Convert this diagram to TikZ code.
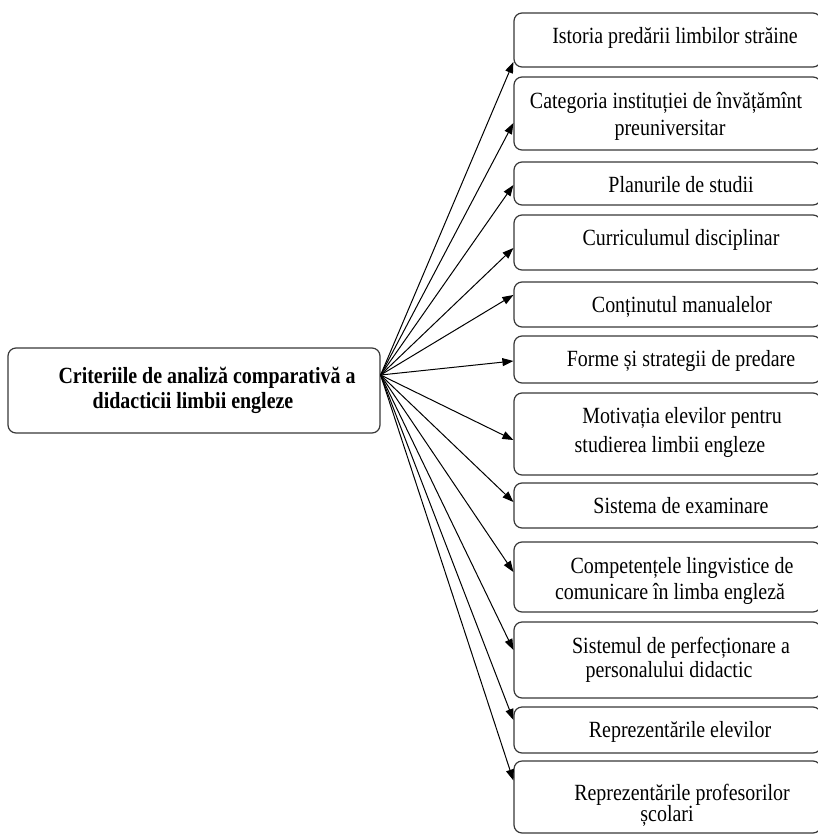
\documentclass[tikz,border=0pt]{standalone}
\usepackage{fontspec}
\setmainfont{Liberation Serif}[FakeStretch=0.86]
\usetikzlibrary{arrows.meta}
\begin{document}
\begin{tikzpicture}[x=1pt,y=-1pt,
  box/.style={draw=black!78,line width=1.2pt,rounded corners=8pt,
    rectangle,inner sep=0pt,minimum width=307pt},
  txt/.style={anchor=base,inner sep=0pt,font=\fontsize{23.2}{27}\selectfont},
  btxt/.style={txt,font=\fontsize{23.2}{27}\selectfont\bfseries},
  arr/.style={draw=black,line width=1pt,-{Triangle[length=11pt,width=8pt]}}]
\useasboundingbox (0,0) rectangle (818,835);
\clip (0,0) rectangle (818,835);

% central criterion box
\node[box,minimum width=372pt,minimum height=85pt] (c) at (194,390.5) {};
\node[btxt] (c1) at (207,383) {Criteriile de analiză comparativă a};
\node[btxt] (c2) at (193,408) {didacticii limbii engleze};
\coordinate (hub) at ([yshift=15.5pt]c.east);

% criteria boxes (centre y, height)
\node[box,minimum height=54pt] (b1)  at (667.5,40)    {};
\node[box,minimum height=73pt] (b2)  at (667.5,113.5) {};
\node[box,minimum height=43pt] (b3)  at (667.5,183.5) {};
\node[box,minimum height=55pt] (b4)  at (667.5,242.5) {};
\node[box,minimum height=45pt] (b5)  at (667.5,304.5) {};
\node[box,minimum height=47pt] (b6)  at (667.5,359.5) {};
\node[box,minimum height=82pt] (b7)  at (667.5,434)   {};
\node[box,minimum height=45pt] (b8)  at (667.5,505.5) {};
\node[box,minimum height=70pt] (b9)  at (667.5,577)   {};
\node[box,minimum height=76pt] (b10) at (667.5,660)   {};
\node[box,minimum height=46pt] (b11) at (667.5,730)   {};
\node[box,minimum height=72pt] (b12) at (667.5,797)   {};

% labels
\node[txt] (t1)  at (675,43)  {Istoria predării limbilor străine};
\node[txt] (t2a) at (666,108) {Categoria instituției de învățămînt};
\node[txt] (t2b) at (670,135) {preuniversitar};
\node[txt] (t3)  at (681,192) {Planurile de studii};
\node[txt] (t4)  at (681,245) {Curriculumul disciplinar};
\node[txt] (t5)  at (682,312) {Conținutul manualelor};
\node[txt] (t6)  at (681,366) {Forme și strategii de predare};
\node[txt] (t7a) at (682,423) {Motivația elevilor pentru};
\node[txt] (t7b) at (670,452) {studierea limbii engleze};
\node[txt] (t8)  at (681,513) {Sistema de examinare};
\node[txt] (t9a) at (682,573) {Competențele lingvistice de};
\node[txt] (t9b) at (670,599) {comunicare în limba engleză};
\node[txt] (t10a) at (681,653) {Sistemul de perfecționare a};
\node[txt] (t10b) at (669,677) {personalului didactic};
\node[txt] (t11) at (680,737) {Reprezentările elevilor};
\node[txt] (t12a) at (682,800) {Reprezentările profesorilor};
\node[txt] (t12b) at (667,821) {școlari};

% connectors from the central box
\draw[arr] (hub) -- ([yshift=-22pt]b1.west);
\draw[arr] (hub) -- ([yshift=-9.5pt]b2.west);
\draw[arr] (hub) -- ([yshift=-1.5pt]b3.west);
\draw[arr] (hub) -- ([yshift=-5.5pt]b4.west);
\draw[arr] (hub) -- ([yshift=9.5pt]b5.west);
\draw[arr] (hub) -- ([yshift=-1.5pt]b6.west);
\draw[arr] (hub) -- ([yshift=-6pt]b7.west);
\draw[arr] (hub) -- ([yshift=3.5pt]b8.west);
\draw[arr] (hub) -- ([yshift=5pt]b9.west);
\draw[arr] (hub) -- ([yshift=10pt]b10.west);
\draw[arr] (hub) -- ([yshift=10pt]b11.west);
\draw[arr] (hub) -- ([yshift=16.5pt]b12.west);
\end{tikzpicture}
\end{document}
